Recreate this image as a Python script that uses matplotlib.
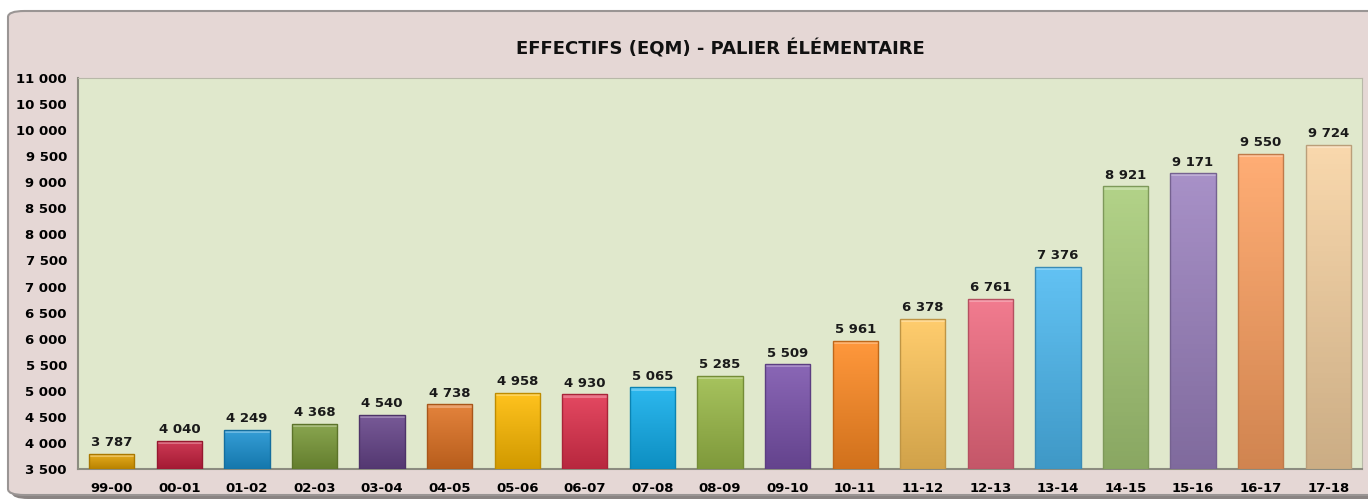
import matplotlib.pyplot as plt
import matplotlib.transforms as mtransforms
import numpy as np
from matplotlib.patches import FancyBboxPatch
from matplotlib.colors import to_rgb

years = ["99-00", "00-01", "01-02", "02-03", "03-04", "04-05", "05-06", "06-07", "07-08", "08-09",
         "09-10", "10-11", "11-12", "12-13", "13-14", "14-15", "15-16", "16-17", "17-18"]
effectifs = [3787, 4040, 4249, 4368, 4540, 4738, 4958, 4930, 5065, 5285,
             5509, 5961, 6378, 6761, 7376, 8921, 9171, 9550, 9724]
colors = ["#E2A000", "#C8203F", "#1A92D2", "#7A9A38", "#66448A", "#E07222", "#FFBB00", "#E0304C",
          "#10AEEC", "#9BBB48", "#7A52AC", "#FF8A22", "#FFC65A", "#F06A80", "#4DBAF2", "#A8CC78",
          "#9C82C0", "#FFA262", "#F8D3A2"]
yticks = list(range(3500, 11001, 500))


def fmt(v):
    return f"{v:,}".replace(",", " ")


def shade(c, f):
    r = np.array(to_rgb(c))
    if f < 1:
        return r * f
    return r + (1 - r) * (f - 1)


fig = plt.figure(figsize=(13.68, 5.03), dpi=100)
fig.patch.set_facecolor("white")

# outer frame
shadow = FancyBboxPatch((12 / 1368, 4 / 503), 1.05, 486 / 503, boxstyle="round,pad=0,rounding_size=0.012",
                        transform=fig.transFigure, facecolor="#8a8483", edgecolor="none", zorder=-3)
frame = FancyBboxPatch((8 / 1368, 8 / 503), 1.05, 484 / 503, boxstyle="round,pad=0,rounding_size=0.012",
                       transform=fig.transFigure, facecolor="#E5D7D5", edgecolor="#9a9594", lw=1.5, zorder=-2)
fig.patches.extend([shadow, frame])

ax = fig.add_axes([78 / 1368, 34 / 503, 1284 / 1368, 391 / 503])
ax.set_facecolor("#E0E8CC")

w = 0.67
bars = ax.bar(range(len(years)), effectifs, width=w, bottom=0, color=colors, edgecolor="none", zorder=2)
for i, (b, v, c) in enumerate(zip(bars, effectifs, colors)):
    # vertical gradient, lighter at the top
    grad = np.linspace(1, 0, 64)[:, None]
    top = shade(c, 1.12)
    bot = shade(c, 0.82)
    img = top[None, None, :] * grad[..., None] + bot[None, None, :] * (1 - grad[..., None])
    img = np.repeat(img, 4, axis=1)
    im = ax.imshow(img, extent=(i - w / 2, i + w / 2, 3500, v), aspect="auto", zorder=3)
    im.set_clip_path(b)
    # top highlight and edge
    ax.bar(i, 60, width=w, bottom=v - 60, color=shade(c, 1.35), edgecolor="none", zorder=4)
    ax.bar(i, v - 3500, width=w, bottom=3500, color="none", edgecolor=shade(c, 0.75), lw=1, zorder=5)
    ax.text(i, v + 90, fmt(v), ha="center", va="bottom", fontsize=9.5, fontweight="bold", color="#1a1a1a")

ax.set_xlim(-0.5, len(years) - 0.5)
ax.set_ylim(3500, 11000)
ax.set_xticks(range(len(years)))
ax.set_xticklabels(years, fontsize=9.5, fontweight="bold")
ax.set_yticks(yticks)
ax.set_yticklabels([fmt(t) for t in yticks], fontsize=9.5, fontweight="bold")
ax.tick_params(length=0)
ax.tick_params(axis="y", pad=8)
ax.tick_params(axis="x", pad=9)
for s in ["top", "right"]:
    ax.spines[s].set_color("#b8b8a8")
for s in ["left", "bottom"]:
    ax.spines[s].set_color("#8c8c80")
    ax.spines[s].set_linewidth(1.5)

# title centred over the plot area
trans = mtransforms.blended_transform_factory(ax.transAxes, fig.transFigure)
ax.text(0.5, 1 - 49 / 503, "EFFECTIFS (EQM) - PALIER ÉLÉMENTAIRE", transform=trans,
        ha="center", va="center", fontsize=13, fontweight="bold", color="#111111")

fig.savefig("out.png", dpi=100)
